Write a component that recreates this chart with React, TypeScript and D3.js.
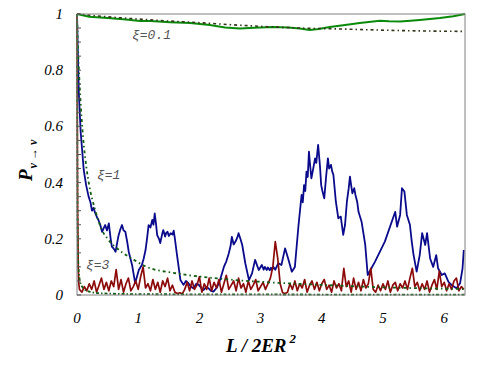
import React from "react";
import * as d3 from "d3";

// xi = 0.1 (green) and its averaged envelope (dotted)
const greenL = [0, 0.2, 0.5, 0.8, 1.03, 1.2, 1.52, 1.85, 2.17, 2.42, 2.66, 2.9, 3.2, 3.45, 3.64, 3.8, 3.95, 4.13, 4.35, 4.62, 4.95, 5.1, 5.28, 5.45, 5.6, 5.93, 6.15, 6.34];
const greenP = [1, 0.99, 0.986, 0.98, 0.975, 0.975, 0.971, 0.968, 0.961, 0.952, 0.948, 0.951, 0.954, 0.952, 0.948, 0.943, 0.947, 0.954, 0.96, 0.968, 0.976, 0.974, 0.973, 0.976, 0.979, 0.986, 0.992, 1];
const env01L = [0, 0.5, 1, 1.5, 2, 2.66, 3.2, 3.64, 4.25, 5.28, 6.34];
const env01P = [1, 0.99, 0.982, 0.975, 0.969, 0.96, 0.954, 0.95, 0.947, 0.941, 0.938];

// xi = 1 (blue) and envelope
const blueL = [0, 0.01, 0.03, 0.06, 0.09, 0.11, 0.15, 0.19, 0.22, 0.245, 0.27, 0.3, 0.33, 0.35, 0.38, 0.41, 0.44, 0.46, 0.49, 0.52, 0.55, 0.57, 0.6, 0.63, 0.66, 0.68, 0.71, 0.735, 0.76, 0.79, 0.82, 0.845, 0.9, 0.95, 1.01, 1.06, 1.09, 1.12, 1.15, 1.17, 1.2, 1.23, 1.25, 1.27, 1.29, 1.31, 1.34, 1.36, 1.39, 1.41, 1.44, 1.46, 1.48, 1.5, 1.53, 1.56, 1.58, 1.6, 1.63, 1.69, 1.74, 1.78, 1.82, 1.86, 1.9, 1.95, 1.99, 2.03, 2.07, 2.11, 2.15, 2.19, 2.23, 2.28, 2.32, 2.36, 2.4, 2.44, 2.48, 2.51, 2.53, 2.56, 2.59, 2.62, 2.64, 2.67, 2.7, 2.75, 2.81, 2.86, 2.91, 2.97, 3.02, 3.05, 3.07, 3.1, 3.12, 3.15, 3.17, 3.19, 3.21, 3.24, 3.29, 3.34, 3.4, 3.45, 3.51, 3.56, 3.62, 3.67, 3.69, 3.71, 3.73, 3.75, 3.77, 3.79, 3.81, 3.83, 3.86, 3.89, 3.91, 3.94, 3.97, 3.99, 4.01, 4.04, 4.07, 4.1, 4.12, 4.15, 4.17, 4.19, 4.23, 4.27, 4.31, 4.35, 4.38, 4.41, 4.44, 4.46, 4.48, 4.5, 4.53, 4.55, 4.58, 4.6, 4.65, 4.71, 4.75, 4.87, 5.03, 5.2, 5.23, 5.28, 5.31, 5.35, 5.39, 5.44, 5.47, 5.5, 5.55, 5.6, 5.64, 5.69, 5.72, 5.77, 5.82, 5.87, 5.9, 5.96, 6.01, 6.07, 6.12, 6.2, 6.26, 6.3, 6.32];
const blueP = [1, 0.9, 0.72, 0.58, 0.5, 0.445, 0.39, 0.35, 0.33, 0.3, 0.31, 0.29, 0.275, 0.267, 0.25, 0.225, 0.24, 0.249, 0.23, 0.255, 0.2, 0.172, 0.165, 0.154, 0.19, 0.213, 0.235, 0.249, 0.23, 0.225, 0.19, 0.154, 0.107, 0.042, 0.089, 0.107, 0.13, 0.16, 0.21, 0.249, 0.24, 0.267, 0.25, 0.29, 0.255, 0.213, 0.2, 0.185, 0.215, 0.231, 0.208, 0.222, 0.225, 0.21, 0.22, 0.215, 0.229, 0.2, 0.149, 0.053, 0.036, 0.05, 0.042, 0.03, 0.024, 0.04, 0.036, 0.025, 0.018, 0.028, 0.024, 0.015, 0.012, 0.025, 0.042, 0.07, 0.1, 0.12, 0.148, 0.175, 0.207, 0.18, 0.19, 0.205, 0.22, 0.2, 0.178, 0.113, 0.053, 0.077, 0.125, 0.089, 0.107, 0.09, 0.1, 0.089, 0.098, 0.088, 0.097, 0.09, 0.1, 0.09, 0.113, 0.107, 0.166, 0.13, 0.083, 0.1, 0.249, 0.356, 0.33, 0.391, 0.37, 0.439, 0.42, 0.51, 0.46, 0.415, 0.45, 0.486, 0.47, 0.534, 0.46, 0.391, 0.37, 0.344, 0.42, 0.486, 0.45, 0.463, 0.44, 0.427, 0.332, 0.273, 0.279, 0.214, 0.25, 0.332, 0.38, 0.421, 0.39, 0.362, 0.38, 0.356, 0.33, 0.296, 0.261, 0.178, 0.071, 0.119, 0.19, 0.296, 0.243, 0.285, 0.38, 0.368, 0.285, 0.25, 0.19, 0.142, 0.083, 0.142, 0.22, 0.178, 0.22, 0.13, 0.1, 0.142, 0.095, 0.071, 0.077, 0.047, 0.036, 0.024, 0.042, 0.095, 0.16];
const env1L = [0, 0.02, 0.05, 0.1, 0.15, 0.2, 0.3, 0.4, 0.5, 0.65, 0.93, 1.14, 1.63, 2.29, 3.15, 4, 4.9, 5.6, 6.34];
const env1P = [1, 0.86, 0.72, 0.56, 0.46, 0.39, 0.3, 0.235, 0.2, 0.167, 0.125, 0.1, 0.077, 0.059, 0.045, 0.036, 0.028, 0.024, 0.021];

// xi = 3 (red) and envelope
const redStartL = [0, 0.005, 0.01, 0.02, 0.03];
const redStartP = [1, 0.6, 0.3, 0.1, 0.04];
const redStep = 0.04;
const redP = [0.02, 0.01, 0.03, 0.015, 0.04, 0.02, 0.05, 0.01, 0.035, 0.06, 0.02, 0.045, 0.015, 0.05, 0.03,
  0.09, 0.02, 0.055, 0.01, 0.04, 0.06, 0.015, 0.03, 0.05, 0.02, 0.065, 0.1, 0.025, 0.04, 0.015,
  0.055, 0.02, 0.045, 0.01, 0.05, 0.03, 0.06, 0.015, 0.035, 0.01, 0.005, 0.008, 0.004, 0.02, 0.045,
  0.015, 0.05, 0.02, 0.035, 0.065, 0.01, 0.04, 0.02, 0.06, 0.015, 0.045, 0.025, 0.055, 0.01, 0.04,
  0.07, 0.02, 0.035, 0.05, 0.015, 0.06, 0.025, 0.04, 0.01, 0.05, 0.02, 0.035, 0.055, 0.015, 0.03,
  0.045, 0.02, 0.04, 0.06, 0.1, 0.19, 0.13, 0.04, 0.008, 0.005, 0.01, 0.04, 0.02, 0.05, 0.015,
  0.04, 0.025, 0.055, 0.01, 0.035, 0.05, 0.02, 0.045, 0.015, 0.04, 0.055, 0.02, 0.035, 0.01, 0.05,
  0.025, 0.04, 0.015, 0.095, 0.03, 0.05, 0.01, 0.06, 0.02, 0.045, 0.015, 0.055, 0.025, 0.04, 0.095,
  0.02, 0.01, 0.035, 0.015, 0.04, 0.02, 0.05, 0.01, 0.035, 0.045, 0.015, 0.04, 0.025, 0.05, 0.02,
  0.06, 0.095, 0.03, 0.045, 0.015, 0.04, 0.02, 0.05, 0.01, 0.035, 0.055, 0.02, 0.085, 0.03, 0.045,
  0.015, 0.04, 0.02, 0.05, 0.06, 0.015, 0.03, 0.02];
const env3L = [0, 0.005, 0.01, 0.02, 0.04, 0.07, 0.1, 0.2, 0.4, 1, 3, 6.34];
const env3P = [1, 0.5, 0.25, 0.12, 0.06, 0.035, 0.025, 0.012, 0.006, 0.003, 0.002, 0.001];

const W = 479, H = 369;
const m = { left: 77, right: 465, top: 14, bottom: 295 };

export default function App() {
  const x = d3.scaleLinear().domain([0, 6.34]).range([m.left, m.right]);
  const y = d3.scaleLinear().domain([0, 1]).range([m.bottom, m.top]);

  const zip = (ls: number[], ps: number[]) => ls.map((l, i) => [l, ps[i]] as [number, number]);
  const lin = d3.line<[number, number]>().x(d => x(d[0])).y(d => y(d[1]));
  const smooth = d3.line<[number, number]>().x(d => x(d[0])).y(d => y(d[1])).curve(d3.curveMonotoneX);

  const redPts = zip(redStartL, redStartP).concat(redP.map((p, i) => [(i + 1) * redStep, p] as [number, number]));

  const serif = "'Liberation Serif', 'Times New Roman', serif";
  const mono = "'Liberation Mono', 'Courier New', monospace";

  return (
    <svg width={W} height={H} style={{ position: "absolute", left: 0, top: 0, background: "#fff" }}>
      {/* data */}
      <path d={lin(zip(greenL, greenP)) || ""} fill="none" stroke="#0a8a0a" strokeWidth={2} />
      <path d={smooth(zip(env01L, env01P)) || ""} fill="none" stroke="#34341a" strokeWidth={1.6} strokeDasharray="3 3 1.5 3" />
      <path d={lin(zip(blueL, blueP)) || ""} fill="none" stroke="#0a0a8c" strokeWidth={1.8} strokeLinejoin="round" />
      <path d={lin(redPts) || ""} fill="none" stroke="#8c0a0a" strokeWidth={1.7} strokeLinejoin="round" />
      <path d={smooth(zip(env1L, env1P)) || ""} fill="none" stroke="#125e12" strokeWidth={1.8} strokeDasharray="3 3 1.5 3" />
      <path d={smooth(zip(env3L, env3P)) || ""} fill="none" stroke="#125e12" strokeWidth={1.8} strokeDasharray="3 2 1.5 2" />

      {/* frame */}
      <rect x={m.left} y={m.top} width={m.right - m.left} height={m.bottom - m.top} fill="none" stroke="#808080" strokeWidth={1} />
      {y.ticks(20).map(t => (
        <line key={t} x1={m.left} x2={m.left + 4} y1={y(t)} y2={y(t)} stroke="#555" strokeWidth={1} />
      ))}
      {y.ticks(5).map(t => (
        <text key={t} x={63} y={y(t) + 5} textAnchor="end" fontFamily={serif} fontStyle="italic" fontSize={15}>{String(t)}</text>
      ))}
      {x.ticks(6).map(t => (
        <text key={t} x={x(t)} y={323} textAnchor="middle" fontFamily={serif} fontStyle="italic" fontSize={15}>{String(t)}</text>
      ))}

      {/* axis titles */}
      <text x={226} y={352} fontFamily={serif} fontStyle="italic" fontWeight="bold" fontSize={19}>
        L / 2ER<tspan dx={3} dy={-9} fontSize={13}>2</tspan>
      </text>
      <text transform="translate(32,181) rotate(-90)" fontFamily={serif} fontStyle="italic" fontWeight="bold" fontSize={19}>
        P<tspan dx={1} dy={5} fontSize={12} fontWeight="bold">ν → ν</tspan>
      </text>

      {/* annotations */}
      <text x={132} y={39} fontFamily={mono} fontStyle="italic" fontSize={13} fill="#555">ξ=0.1</text>
      <text x={97} y={179} fontFamily={mono} fontStyle="italic" fontSize={13} fill="#555">ξ=1</text>
      <text x={86} y={269} fontFamily={mono} fontStyle="italic" fontSize={13} fill="#555">ξ=3</text>
    </svg>
  );
}
